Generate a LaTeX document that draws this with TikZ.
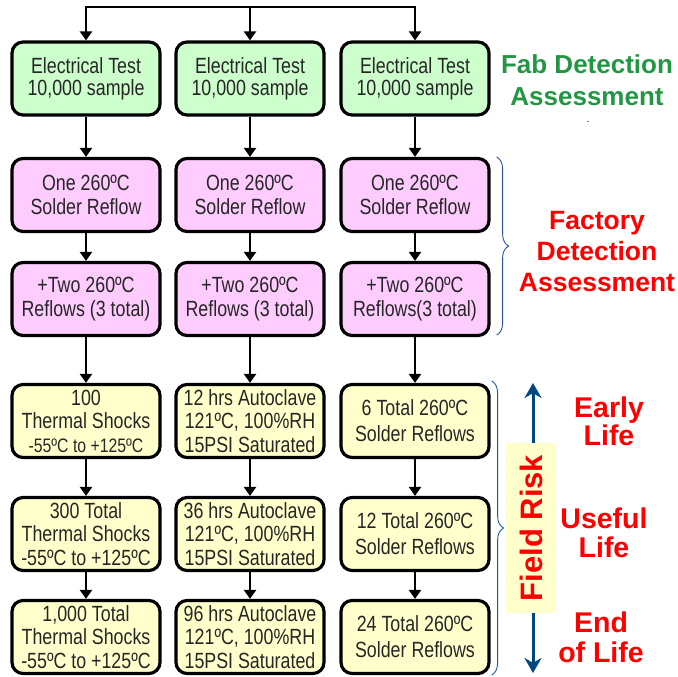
\documentclass[tikz,border=0pt]{standalone}
\usepackage{fontspec}
\setmainfont{Liberation Sans}
\newfontfamily\narrowsans{Liberation Sans}[FakeStretch=0.81]
\usepackage{tikz}
\usetikzlibrary{arrows.meta, positioning, calc, decorations.pathreplacing}

\definecolor{fabgreen}{RGB}{204,255,204}
\definecolor{factpink}{RGB}{255,204,255}
\definecolor{lifeyellow}{RGB}{255,255,204}
\definecolor{labgreen}{RGB}{34,150,66}
\definecolor{labred}{RGB}{255,0,0}
\definecolor{bracblue}{RGB}{40,84,150}
\definecolor{riskblue}{RGB}{0,70,127}

\tikzset{
  testbox/.style={draw=black, line width=3.2pt, rounded corners=11pt,
    minimum width=148pt, minimum height=73pt, inner sep=0pt, align=center,
    text=black!85, font=\narrowsans\fontsize{22}{24.5}\selectfont},
  fabbox/.style={testbox, fill=fabgreen, font=\narrowsans\fontsize{22}{22}\selectfont},
  factbox/.style={testbox, fill=factpink},
  lifebox/.style={testbox, fill=lifeyellow, font=\narrowsans\fontsize{22}{23.5}\selectfont},
  reflowbox/.style={testbox, fill=lifeyellow, font=\narrowsans\fontsize{22}{26}\selectfont},
  flow/.style={-{Triangle[width=12pt,length=9pt]}, line width=2.8pt},
  flowboth/.style={{Triangle[width=12pt,length=9pt]}-{Triangle[width=12pt,length=9pt]}, line width=2.8pt},
  biglabel/.style={align=center, font=\bfseries\fontsize{26.5}{31}\selectfont},
  curly/.style={draw=bracblue, line width=0.9pt, decorate, decoration={brace, amplitude=12pt}},
}

\begin{document}
\begin{tikzpicture}[x=1pt, y=-1pt]
    \useasboundingbox (0,0) rectangle (678,677);

    % fab stage
    \node[fabbox] (fab1) at (86,78.5) {Electrical Test\\10,000 sample};
    \node[fabbox] (fab2) at (250,78.5) {Electrical Test\\10,000 sample};
    \node[fabbox] (fab3) at (415,78.5) {Electrical Test\\10,000 sample};

    % factory stage
    \node[factbox] (one1) at (86,195) {One 260ºC\\Solder Reflow};
    \node[factbox] (one2) at (250,195) {One 260ºC\\Solder Reflow};
    \node[factbox] (one3) at (415,195) {One 260ºC\\Solder Reflow};
    \node[factbox] (two1) at (86,299) {+Two 260ºC\\Reflows (3 total)};
    \node[factbox] (two2) at (250,299) {+Two 260ºC\\Reflows (3 total)};
    \node[factbox] (two3) at (415,299) {+Two 260ºC\\Reflows(3 total)};

    % field stage
    \node[lifebox] (early1) at (86,421) {100\\Thermal Shocks\\{\fontsize{19.5}{20}\selectfont -55ºC to +125ºC}};
    \node[lifebox] (early2) at (250,421) {12 hrs Autoclave\\121ºC, 100\%RH\\15PSI Saturated};
    \node[reflowbox] (early3) at (415,421) {6 Total 260ºC\\Solder Reflows};
    \node[lifebox] (useful1) at (86,534) {300 Total\\Thermal Shocks\\-55ºC to +125ºC};
    \node[lifebox] (useful2) at (250,534) {36 hrs Autoclave\\121ºC, 100\%RH\\15PSI Saturated};
    \node[reflowbox] (useful3) at (415,534) {12 Total 260ºC\\Solder Reflows};
    \node[lifebox] (end1) at (86,637) {1,000 Total\\Thermal Shocks\\-55ºC to +125ºC};
    \node[lifebox] (end2) at (250,637) {96 hrs Autoclave\\121ºC, 100\%RH\\15PSI Saturated};
    \node[reflowbox] (end3) at (415,637) {24 Total 260ºC\\Solder Reflows};

    % feed from the top
    \coordinate (feed) at (250,7);
    \draw[flowboth] (fab1.north) |- (feed) -| (fab3.north);
    \draw[flow] (feed) -- (fab2.north);

    \foreach \c in {1,2,3} {
        \draw[flow] (fab\c) -- (one\c);
        \draw[flow] (one\c) -- (two\c);
        \draw[flow] (two\c) -- (early\c);
        \draw[flow] (early\c) -- (useful\c);
        \draw[flow] (useful\c) -- (end\c);
    }

    % stage labels
    \node[biglabel, text=labgreen, font=\bfseries\fontsize{26}{32}\selectfont] (fablab) at (587,80) {Fab Detection\\Assessment};
    \node[font=\fontsize{10}{10}\selectfont] (dot) at (588,122) {.};
    \draw[curly] ($(one3.north east)+(6,0)$) -- ($(two3.south east)+(6,-2)$);
    \node[biglabel, text=labred] (factlab) at (597,252) {Factory\\Detection\\Assessment};
    \draw[curly] ($(early3.north east)+(1,-2)$) -- ($(end3.south east)+(1,0)$);

    % field risk
    \coordinate (riskTop) at (533,383);
    \coordinate (riskBot) at (533,673);
    \draw[riskblue, line width=3pt, {Stealth[width=17pt,length=15pt]}-{Stealth[width=17pt,length=15pt]}] (riskTop) -- (riskBot);
    \node[fill=lifeyellow, rotate=90, minimum width=170pt, minimum height=50pt, inner sep=0pt,
          text=labred, font=\bfseries\fontsize{31}{31}\selectfont] (risk) at (531,528) {Field Risk};

    \node[biglabel, text=labred, font=\bfseries\fontsize{28.5}{28}\selectfont] (earlylab) at (609,421) {Early\\Life};
    \node[biglabel, text=labred, font=\bfseries\fontsize{28.5}{29}\selectfont] (usefullab) at (604,533) {Useful\\Life};
    \node[biglabel, text=labred, font=\bfseries\fontsize{28.5}{30}\selectfont] (endlab) at (601,637) {End\\of Life};
\end{tikzpicture}
\end{document}
